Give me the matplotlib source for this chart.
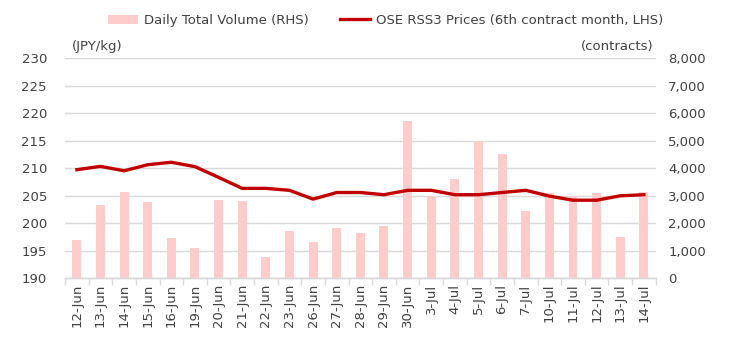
import matplotlib
matplotlib.use("Agg")
import matplotlib.pyplot as plt
import numpy as np
from matplotlib.ticker import FuncFormatter, FixedLocator

dates = ["12-Jun", "13-Jun", "14-Jun", "15-Jun", "16-Jun", "19-Jun", "20-Jun", "21-Jun",
         "22-Jun", "23-Jun", "26-Jun", "27-Jun", "28-Jun", "29-Jun", "30-Jun", "3-Jul",
         "4-Jul", "5-Jul", "6-Jul", "7-Jul", "10-Jul", "11-Jul", "12-Jul", "13-Jul", "14-Jul"]
volume = [1400, 2650, 3130, 2760, 1480, 1090, 2850, 2810, 760, 1720, 1320, 1840, 1650,
          1890, 5730, 2990, 3610, 4980, 4530, 2450, 3090, 2990, 3090, 1490, 3130]
price = [209.75, 210.35, 209.55, 210.65, 211.1, 210.3, 208.35, 206.35, 206.35, 206.0,
         204.4, 205.6, 205.6, 205.2, 206.0, 206.0, 205.2, 205.2, 205.6, 206.0, 204.95,
         204.2, 204.2, 205.0, 205.2]

text_col = "#404040"
grid_col = "#d9d9d9"
bar_col = "#ffcccc"
line_col = "#c00000"
fs = 9.5

plt.rcParams["font.family"] = ["DejaVu Sans"]

fig = plt.figure(figsize=(7.34, 3.43), dpi=100)
ax = fig.add_axes([0.0886, 0.1886, 0.8047, 0.6414])
ax2 = ax.twinx()
ax.set_zorder(ax2.get_zorder() + 1)
ax.patch.set_visible(False)

x = np.arange(len(dates))
bars = ax2.bar(x, volume, width=0.38, color=bar_col, zorder=2,
               label="Daily Total Volume (RHS)")
line, = ax.plot(x, price, color=line_col, lw=2.4, zorder=3,
                label="OSE RSS3 Prices (6th contract month, LHS)")

ax.set_xlim(-0.5, len(dates) - 0.5)
ax.set_ylim(190, 230)
ax.set_yticks(np.arange(190, 231, 5))
ax2.set_ylim(0, 8000)
ax2.set_yticks(np.arange(0, 8001, 1000))
ax2.yaxis.set_major_formatter(FuncFormatter(lambda v, p: f"{int(v):,}"))

ax2.grid(axis="y", color=grid_col, lw=1.0, zorder=0)
ax2.set_axisbelow(True)

for a in (ax, ax2):
    for s in ("top", "left", "right"):
        a.spines[s].set_visible(False)
    a.spines["bottom"].set_color(grid_col)
    a.spines["bottom"].set_linewidth(1.0)

ax.tick_params(axis="y", length=0, labelsize=fs, colors=text_col, pad=13)
ax2.tick_params(axis="y", length=0, labelsize=fs, colors=text_col, pad=9)

ax.set_xticks(x)
ax.set_xticklabels(dates, rotation=90, fontsize=fs, color=text_col)
ax.tick_params(axis="x", which="major", length=0, pad=4)
ax.xaxis.set_minor_locator(FixedLocator(np.arange(-0.5, len(dates), 1.0)))
ax.tick_params(axis="x", which="minor", length=5, color=grid_col, width=1.0)
ax2.tick_params(axis="x", which="both", length=0)

ax.text(0.012, 1.025, "(JPY/kg)", transform=ax.transAxes, fontsize=fs,
        color=text_col, ha="left", va="bottom")
ax.text(0.996, 1.025, "(contracts)", transform=ax.transAxes, fontsize=fs,
        color=text_col, ha="right", va="bottom")

fig.legend(handles=[bars, line], loc="center", bbox_to_anchor=(0.525, 0.94), ncol=2,
           frameon=False, fontsize=fs, handlelength=2.3, columnspacing=2.4,
           handletextpad=0.4, labelcolor=text_col)

fig.savefig("out.png", dpi=100)
